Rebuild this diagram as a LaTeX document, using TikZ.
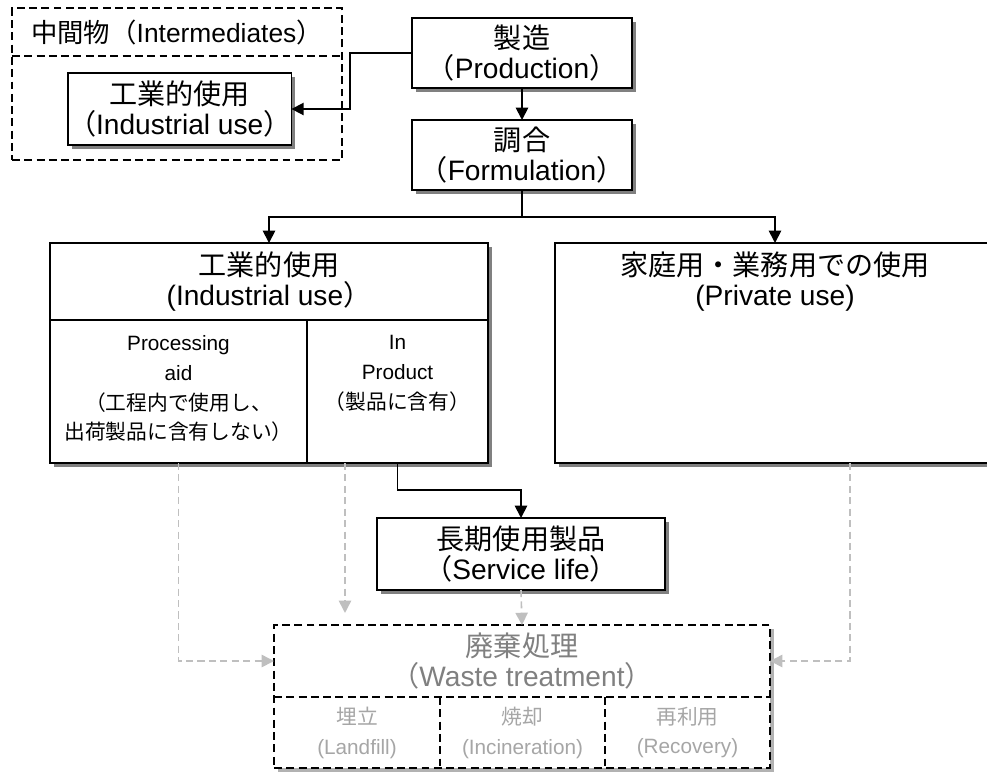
\documentclass[tikz,border=0pt]{standalone}
\usepackage{fontspec}
\setmainfont{Liberation Sans}
\newfontfamily\jpfont{Noto Sans CJK JP}
\newcommand{\ja}[1]{{\jpfont #1}}
\usetikzlibrary{arrows.meta,positioning}
\pgfdeclarelayer{bg}
\pgfsetlayers{bg,main}

\begin{document}
\begin{tikzpicture}[x=0.02cm,y=-0.02cm,>={Triangle[length=7pt,width=7pt]},
	sz/.style 2 args={minimum width=#1*0.02cm,minimum height=#2*0.02cm},
	cell/.style={anchor=north west,inner sep=0pt,outer sep=0pt},
	box/.style={cell,draw,line width=1pt,fill=white},
	dline/.style={line width=1pt,dash pattern=on 4.5pt off 2.5pt},
	dbox/.style={cell,draw,dline},
	shade/.style={fill=gray,draw=none},
	lbl/.style={align=center,font=\fontsize{16}{17.5}\selectfont,inner sep=0pt},
	small/.style={align=center,font=\fontsize{11.8}{17}\selectfont,inner sep=0pt},
	flow/.style={->,line width=1pt},
	gflow/.style={->,line width=0.9pt,draw=black!25,dash pattern=on 4pt off 2.5pt}]
	\useasboundingbox (0,0) rectangle (987,772);

	\node[dbox,sz={330}{152}] (inter) at (12,8) {};
	\node[cell,sz={330}{48},lbl,font=\fontsize{15}{17.5}\selectfont] (intertop) at (12,8) {\ja{中間物（}Intermediates\ja{）}};
	\draw[dline] (intertop.south west) -- (intertop.south east);
	\node[box,sz={219}{72},lbl] (imind) at (68,73) {\ja{工業的使用}\\\ja{（}Industrial use\ja{）}};

	\node[box,sz={220}{70},lbl] (prod) at (412,18) {\ja{製造}\\\ja{（}Production\ja{）}};
	\node[box,sz={220}{70},lbl] (form) at (412,120) {\ja{調合}\\\ja{（}Formulation\ja{）}};

	\node[box,sz={438}{220}] (ind) at (50,243) {};
	\node[cell,sz={438}{77},lbl] (indhead) at (50,243) {\ja{工業的使用}\\(Industrial use\ja{）}};
	\node[cell,sz={257}{143}] (aid) at (50,320) {};
	\node[cell,sz={181}{143}] (inprod) at (307,320) {};
	\node[small,below=0.3cm of aid.north] (aidtxt) {Processing\\aid\\\ja{（工程内で使用し、}\\\ja{出荷製品に含有しない）}};
	\node[small,below=0.3cm of inprod.north] (inprodtxt) {In\\Product\\\ja{（製品に含有）}};
	\draw[line width=1pt] (indhead.south west) -- (indhead.south east);
	\draw[line width=1pt] (aid.north east) -- (aid.south east);

	\node[box,sz={440}{220}] (priv) at (555,243) {};
	\node[lbl] (privtxt) at (indhead.center -| priv.north) {\ja{家庭用・業務用での使用}\\(Private use)};

	\node[box,sz={288}{72},lbl] (svc) at (377,518) {\ja{長期使用製品}\\\ja{（}Service life\ja{）}};

	\node[dbox,fill=white,sz={496}{143}] (waste) at (274,625) {};
	\node[cell,sz={496}{72},lbl,text=black!50] (wastehead) at (274,625) {\ja{廃棄処理}\\\ja{（}Waste treatment\ja{）}};
	\node[cell,sz={166}{71},small,text=black!35] (landfill) at (274,697) {\ja{埋立}\\(Landfill)};
	\node[cell,sz={165}{71},small,text=black!35] (incin) at (440,697) {\ja{焼却}\\(Incineration)};
	\node[cell,sz={165}{71},small,text=black!35] (recov) at (605,697) {\ja{再利用}\\(Recovery)};
	\draw[dline] (wastehead.south west) -- (wastehead.south east);
	\draw[dline] (landfill.north east) -- (landfill.south east);
	\draw[dline] (incin.north east) -- (incin.south east);

	\begin{pgfonlayer}{bg}
		\foreach \n in {imind,prod,form,ind,priv,svc}
			\fill[shade] ([shift={(0.08cm,-0.08cm)}]\n.south west) rectangle ([shift={(0.08cm,-0.08cm)}]\n.north east);
		\fill[shade,fill=black!30] ([shift={(0.08cm,-0.08cm)}]waste.south west) rectangle ([shift={(0.08cm,-0.08cm)}]waste.north east);
	\end{pgfonlayer}

	\draw[flow] (prod.west) -- ++(-62,0) |- (imind.east);
	\draw[flow] (prod.south) -- (form.north);
	\draw[line width=1pt] (form.south) -- ++(0,27) coordinate (split);
	\draw[flow] (split) -| (ind.north);
	\draw[flow] (split) -| (priv.north);
	\draw[flow] (inprod.south) -- ++(0,27) -| (svc.north);

	\coordinate (inprodout) at ([xshift=0.76cm]inprod.south west);
	\coordinate (inprodend) at ([yshift=-3cm]inprodout);
	\coordinate (privout) at ([xshift=5.9cm]priv.south west);
	\draw[gflow] (aid.south) |- (wastehead.west);
	\draw[gflow] (inprodout) -- (inprodend);
	\draw[gflow] (svc.south) -- (waste.north);
	\draw[gflow] (privout) |- (wastehead.east);
\end{tikzpicture}
\end{document}
